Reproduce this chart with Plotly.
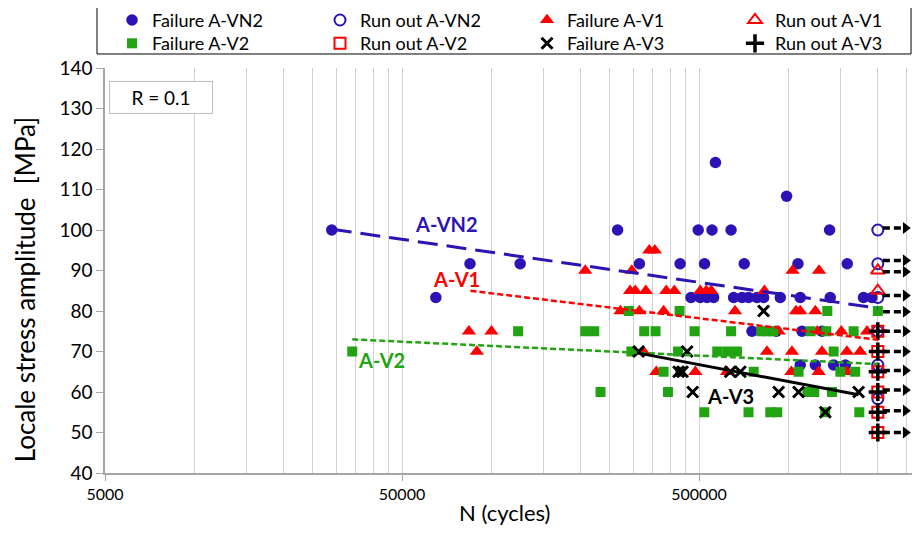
import math
import plotly.graph_objects as go

FONT = "Lato"
BLUE = "#2B13B5"
RED = "#FF0000"
GREEN = "#21A312"
BLACK = "#000000"
AXIS_GRAY = "#A6A6A6"
GRID_GRAY = "#D0D0D0"

# ---------------- data (N in cycles, S in MPa) ----------------
vn2_fail_n = [29000, 84700, 125000, 65000,
              266000, 497000, 553000, 641000, 1376000,
              568000, 986000,
              315000, 432000, 522000, 710000, 1077000, 1578000,
              470000, 505000, 532000, 560000, 654000, 698000, 734000, 784000,
              825000, 939000, 1096000, 1383000, 1790000, 1911000,
              754000, 910000, 1111000, 1297000,
              1096000, 1232000, 1420000, 1555000]
vn2_fail_s = [100, 91.67, 91.67, 83.33,
              100, 100, 100, 100, 100,
              116.67, 108.33,
              91.67, 91.67, 91.67, 91.67, 91.67, 91.67,
              83.33, 83.33, 83.33, 83.33, 83.33, 83.33, 83.33, 83.33,
              83.33, 83.33, 83.33, 83.33, 83.33, 83.33,
              75, 75, 75, 75,
              66.67, 66.67, 66.67, 66.67]

vn2_run_n = [2000000, 2000000, 2000000, 2000000, 2000000, 2000000]
vn2_run_s = [100, 91.67, 83.33, 75, 66.67, 58.33]

v1_fail_n = [340000, 355000,
             207000, 297000, 1033000, 1268000,
             293000, 305000, 331000, 388000, 413000, 505000, 529000, 550000, 830000,
             272000, 315000, 380000, 661000, 1061000, 1096000, 1232000,
             84000, 100000, 927000, 1250000, 1507000, 1840000,
             89300, 325000, 847000, 1028000, 1297000, 1574000, 1745000,
             359000, 486000, 621000, 1023000, 1264000, 1574000]
v1_fail_s = [95, 95,
             90, 90, 90, 90,
             85, 85, 85, 85, 85, 85, 85, 85, 85,
             80, 80, 80, 80, 80, 80, 80,
             75, 75, 75, 75, 75, 75,
             70, 70, 70, 70, 70, 70, 70,
             65, 65, 65, 65, 65, 65]

v1_run_n = [2000000, 2000000]
v1_run_s = [90, 85]

v2_fail_n = [290000, 430000, 1352000, 2000000,
             123000, 207000, 222000, 327000, 357000, 483000, 641000, 810000, 849000,
             889000, 1186000, 1342000, 1658000,
             34000, 296000, 425000, 576000, 622000, 671000, 1420000,
             380000, 432000, 764000, 1082000, 1496000, 1678000,
             233000, 393000, 1158000, 1222000, 1402000,
             521000, 734000, 869000, 917000, 1330000, 1733000]
v2_fail_s = [80, 80, 80, 80,
             75, 75, 75, 75, 75, 75, 75, 75, 75,
             75, 75, 75, 75,
             70, 70, 70, 70, 70, 70, 70,
             65, 65, 65, 65, 65, 65,
             60, 60, 60, 60, 60,
             55, 55, 55, 55, 55, 55]

v2_run_n = [2000000, 2000000, 2000000, 2000000, 2000000, 2000000]
v2_run_s = [75, 70, 65, 60, 55, 50]

v3_fail_n = [825000, 313000, 456000, 427000, 440000, 637000, 689000,
             476000, 927000, 1082000, 1723000, 1331000]
v3_fail_s = [80, 70, 70, 65, 65, 65, 65, 60, 60, 60, 60, 55]

v3_run_n = [2000000, 2000000, 2000000, 2000000, 2000000, 2000000]
v3_run_s = [75, 70, 65, 60, 55, 50]

# run-out arrows (stress levels)
arrow_s = [100.5, 92.5, 89.7, 83.8, 79.8, 75, 70, 65.3, 60.5, 55.4, 50]
runout_n = 2000000

# trend lines (start / end)
trend_vn2_n = [29000, 2000000]
trend_vn2_s = [100.2, 80.7]
trend_v1_n = [85000, 2000000]
trend_v1_s = [85.0, 72.9]
trend_v2_n = [34000, 2000000]
trend_v2_s = [73.0, 66.9]
trend_v3_n = [313000, 1723000]
trend_v3_s = [69.6, 59.3]

# curve labels
label_text = ["A-VN2", "A-V1", "A-V2", "A-V3"]
label_n = [70500, 76000, 42800, 637000]
label_s = [101.6, 87.9, 67.8, 59.0]
label_color = [BLUE, RED, GREEN, BLACK]

# axis
x_tick_vals = [5000, 50000, 500000]
x_tick_text = ["5000", "50000", "500000"]
grid_decades = [5000, 50000, 500000]
grid_mults = [2, 3, 4, 5, 6, 7, 8, 9]
y_ticks = [40, 50, 60, 70, 80, 90, 100, 110, 120, 130, 140]

# ---------------- figure ----------------
fig = go.Figure()

def add_series(name, xs, ys, symbol, color, size, lw, legend):
    fig.add_trace(go.Scatter(
        x=xs, y=ys, mode="markers", name=name, legend=legend,
        marker=dict(symbol=symbol, color=color, size=size,
                    line=dict(color=color, width=lw)),
    ))

add_series("Failure A-VN2", vn2_fail_n, vn2_fail_s, "circle", BLUE, 11.5, 0, "legend")
add_series("Run out A-VN2", vn2_run_n, vn2_run_s, "circle-open", BLUE, 11, 2, "legend2")
add_series("Failure A-V1", v1_fail_n, v1_fail_s, "triangle-up", RED, 12.5, 0, "legend3")
add_series("Run out A-V1", v1_run_n, v1_run_s, "triangle-up-open", RED, 12, 2, "legend4")
add_series("Failure A-V2", v2_fail_n, v2_fail_s, "square", GREEN, 10, 0, "legend5")
add_series("Run out A-V2", v2_run_n, v2_run_s, "square-open", RED, 11, 2, "legend6")
add_series("Failure A-V3", v3_fail_n, v3_fail_s, "x-thin", BLACK, 11, 3, "legend7")
add_series("Run out A-V3", v3_run_n, v3_run_s, "cross-thin", BLACK, 13, 3.5, "legend8")

# trend lines
for xs, ys, col, dash, w in [
    (trend_vn2_n, trend_vn2_s, BLUE, "20px,9px", 3),
    (trend_v1_n, trend_v1_s, RED, "6px,3px", 2.5),
    (trend_v2_n, trend_v2_s, GREEN, "6px,3px", 2.5),
    (trend_v3_n, trend_v3_s, BLACK, "solid", 3),
]:
    fig.add_trace(go.Scatter(x=xs, y=ys, mode="lines", showlegend=False,
                             line=dict(color=col, dash=dash, width=w),
                             hoverinfo="skip"))

# run-out arrows: dashed shaft + arrow head
for s in arrow_s:
    fig.add_trace(go.Scatter(x=[runout_n * 1.04, runout_n * 1.2], y=[s, s],
                             mode="lines", showlegend=False, hoverinfo="skip",
                             line=dict(color=BLACK, dash="7px,4px", width=3.5)))
fig.add_trace(go.Scatter(x=[runout_n * 1.24 for _ in arrow_s], y=arrow_s,
                         mode="markers", showlegend=False, hoverinfo="skip",
                         cliponaxis=False,
                         marker=dict(symbol="triangle-right", size=10.5, color=BLACK)))

# curve labels
for t, n, s, c in zip(label_text, label_n, label_s, label_color):
    fig.add_annotation(x=math.log10(n), y=s, xref="x", yref="y", text="<b>%s</b>" % t,
                       xanchor="center", yanchor="middle",
                       showarrow=False, font=dict(family=FONT, size=20, color=c))

# R box
fig.add_annotation(x=0.0681, y=0.9272, xref="paper", yref="paper", text="R = 0.1",
                   xanchor="center", yanchor="middle",
                   showarrow=False, font=dict(family=FONT, size=19, color="#000"),
                   bordercolor="#BFBFBF", borderwidth=1, width=100, height=29,
                   bgcolor="white")

# axis titles
fig.add_annotation(x=0.4896, y=-0.0975, xref="paper", yref="paper", text="N (cycles)",
                   xanchor="center", yanchor="middle",
                   showarrow=False, font=dict(family=FONT, size=22, color="#000"))
fig.add_annotation(x=-0.098, y=0.454, xref="paper", yref="paper",
                   text="Locale stress amplitude\u00a0 [MPa]", textangle=-90,
                   xanchor="center", yanchor="middle",
                   showarrow=False, font=dict(family=FONT, size=26, color="#000"))

# legend frame
fig.add_shape(type="rect", xref="paper", yref="paper", x0=-0.0098, x1=0.989,
              y0=1.0346, y1=1.1506, line=dict(color="#000000", width=1))

# legends: 4 columns x 2 rows
col_x = [0.0086, 0.2638, 0.5178, 0.7730]
row_y = [1.1635, 1.1059]
leg_common = dict(bgcolor="rgba(0,0,0,0)", borderwidth=0, xanchor="left", yanchor="top",
                  font=dict(family=FONT, size=18, color="#000"), orientation="v")
legends = {}
for i in range(8):
    key = "legend" if i == 0 else "legend%d" % (i + 1)
    legends[key] = dict(leg_common, x=col_x[i % 4], y=row_y[i // 4])

minor_vals = [d * m for d in grid_decades for m in grid_mults]

# the page body has an 8px margin: figure is shifted, so size/margins compensate
fig.update_layout(
    width=912, height=517,
    margin=dict(l=97, r=0, t=60, b=52, autoexpand=False),
    paper_bgcolor="white", plot_bgcolor="white",
    font=dict(family=FONT, size=18, color="#000"),
    showlegend=True,
    **legends,
    xaxis=dict(type="log", range=[math.log10(5000), math.log10(5000) + 815 / 297],
               tickmode="array", tickvals=x_tick_vals, ticktext=x_tick_text,
               ticks="outside", ticklen=6, tickcolor=AXIS_GRAY, tickwidth=1,
               tickfont=dict(family=FONT, size=16),
               showgrid=True, gridcolor=GRID_GRAY, gridwidth=1,
               minor=dict(tickmode="array", tickvals=minor_vals, showgrid=True,
                          gridcolor=GRID_GRAY, gridwidth=1, ticks=""),
               showline=True, linecolor=AXIS_GRAY, linewidth=1.5, zeroline=False),
    yaxis=dict(range=[40, 140], tickmode="array", tickvals=y_ticks,
               ticks="outside", ticklen=7, tickcolor=AXIS_GRAY, tickwidth=1,
               tickfont=dict(family=FONT, size=19),
               showgrid=False, showline=True, linecolor=AXIS_GRAY, linewidth=1.5,
               zeroline=False),
)

fig.write_html("out.html")
